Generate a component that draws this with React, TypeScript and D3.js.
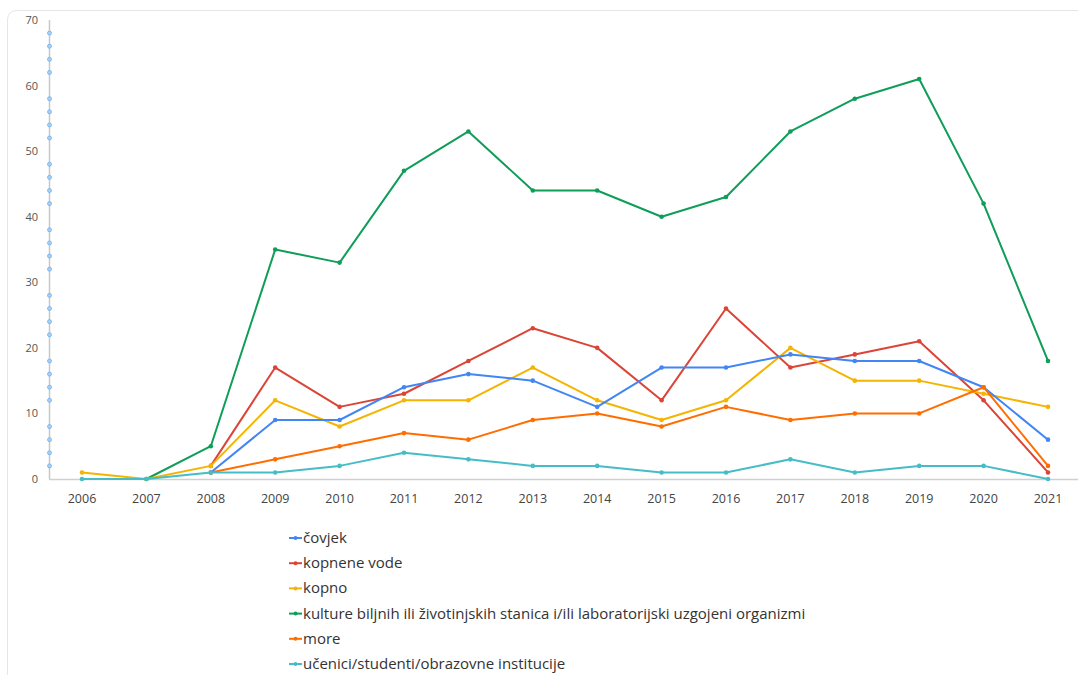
import React from "react";
import * as d3 from "d3";

const years = [2006, 2007, 2008, 2009, 2010, 2011, 2012, 2013, 2014, 2015, 2016, 2017, 2018, 2019, 2020, 2021];
const yTicks = [0, 10, 20, 30, 40, 50, 60, 70];

const covjek = [null, null, 1, 9, 9, 14, 16, 15, 11, 17, 17, 19, 18, 18, 14, 6];
const kopneneVode = [null, null, 2, 17, 11, 13, 18, 23, 20, 12, 26, 17, 19, 21, 12, 1];
const kopno = [1, 0, 2, 12, 8, 12, 12, 17, 12, 9, 12, 20, 15, 15, 13, 11];
const kulture = [null, 0, 5, 35, 33, 47, 53, 44, 44, 40, 43, 53, 58, 61, 42, 18];
const more = [null, null, 1, 3, 5, 7, 6, 9, 10, 8, 11, 9, 10, 10, 14, 2];
const ucenici = [0, 0, 1, 1, 2, 4, 3, 2, 2, 1, 1, 3, 1, 2, 2, 0];

const seriesNames = [
  "čovjek",
  "kopnene vode",
  "kopno",
  "kulture biljnih ili životinjskih stanica i/ili laboratorijski uzgojeni organizmi",
  "more",
  "učenici/studenti/obrazovne institucije",
];
const seriesColors = ["#4285f4", "#db4437", "#f4b400", "#0f9d58", "#ff6d00", "#46bdc6"];
const seriesValues = [covjek, kopneneVode, kopno, kulture, more, ucenici];
// draw order: bottom to top as in reference
const drawOrder = [3, 1, 2, 0, 4, 5];

export default function App() {
  const W = 1078;
  const H = 675;
  const x = d3.scaleLinear().domain([2006, 2021]).range([82, 1048]);
  const y = d3.scaleLinear().domain([0, 70]).range([479, 20]);
  const minor = d3.range(2, 70, 2).filter((v) => v % 10 !== 0);

  const line = d3
    .line<[number, number | null]>()
    .defined((d) => d[1] !== null)
    .x((d) => x(d[0]))
    .y((d) => y(d[1] as number));

  const font = "'Open Sans', 'Liberation Sans', sans-serif";

  return (
    <svg width={W} height={H} style={{ position: "absolute", left: 0, top: 0, background: "#fff" }}>
      <path d={`M7.5,${H} L7.5,20 Q7.5,10.5 17.5,10.5 L${W},10.5`} fill="none" stroke="#e6e6e6" strokeWidth={1} />
      {/* x axis line */}
      <line x1={49} x2={W} y1={y(0) + 0.5} y2={y(0) + 0.5} stroke="#d0d0d0" strokeWidth={1.5} />
      {/* y axis line */}
      <line x1={49.5} x2={49.5} y1={y(70)} y2={y(0)} stroke="#c8c8c8" strokeWidth={1.5} />
      {minor.map((v) => (
        <circle key={v} cx={49.5} cy={y(v)} r={2} fill="#a9d0f5" stroke="#6fb0ee" strokeWidth={0.8} />
      ))}
      {yTicks.map((t) => (
        <text key={t} x={38} y={y(t) + 4} textAnchor="end" fontFamily={font} fontSize={11} fill="#555">
          {t}
        </text>
      ))}
      {years.map((yr) => (
        <text key={yr} x={x(yr)} y={503} textAnchor="middle" fontFamily={font} fontSize={12.5} fill="#444">
          {yr}
        </text>
      ))}
      {drawOrder.map((i) => {
        const pts = years.map((yr, k) => [yr, seriesValues[i][k]] as [number, number | null]);
        return (
          <g key={i}>
            <path d={line(pts) || ""} fill="none" stroke={seriesColors[i]} strokeWidth={2} strokeLinejoin="round" />
            {pts
              .filter((p) => p[1] !== null)
              .map((p) => (
                <circle key={p[0]} cx={x(p[0])} cy={y(p[1] as number)} r={2.3} fill={seriesColors[i]} />
              ))}
          </g>
        );
      })}
      {seriesNames.map((name, i) => {
        const ly = 538 + i * 25.2;
        return (
          <g key={name}>
            <line x1={289} x2={302} y1={ly} y2={ly} stroke={seriesColors[i]} strokeWidth={2} />
            <circle cx={295.5} cy={ly} r={2} fill={seriesColors[i]} />
            <text x={303} y={ly + 5} fontFamily={font} fontSize={15} fill="#333">
              {name}
            </text>
          </g>
        );
      })}
    </svg>
  );
}
